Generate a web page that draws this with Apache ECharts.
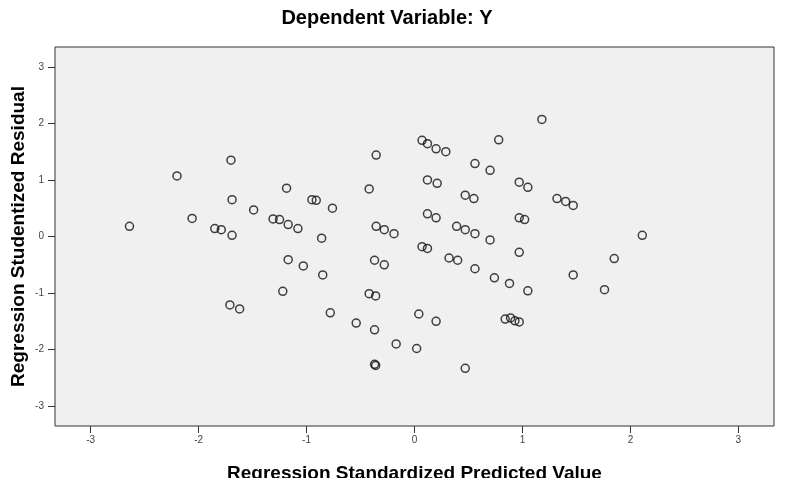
<!DOCTYPE html>
<html>
<head>
<meta charset="utf-8">
<script src="https://cdn.jsdelivr.net/npm/echarts@6/dist/echarts.min.js"></script>
<style>
html,body{margin:0;padding:0;background:#fff;}
#chart{width:788px;height:478px;}
</style>
</head>
<body>
<div id="chart"></div>
<script>
// Regression Standardized Predicted Value (x) values
var predicted = [
  -2.64, -2.20, -1.70, -2.06, -1.69, -1.185, -1.49, -1.85, -1.79, -1.69,
  -1.31, -1.25, -1.17, -1.08, -0.95, -0.91, -0.76, -0.86,
  -1.17, -1.03, -0.85, -1.22, -1.71, -1.62, -0.78,
  -0.355, -0.42, 0.07, 0.12, 0.20, 0.29, 1.18, 0.78, 0.56, 0.70,
  0.12, 0.21, 0.47, 0.55, 0.97, 1.05, 1.32, 1.40, 1.47,
  0.12, 0.20, -0.355, -0.28, -0.19, 0.39, 0.47, 0.56, 0.70, 0.97, 1.02,
  0.07, 0.12, 0.97, 1.47, 0.32, 0.40, -0.37, -0.28, 0.56, 0.74, 0.88, 1.05,
  -0.42, -0.36, -0.54, -0.37, 0.04, 0.20, 0.84, 0.89, 0.93, 0.97,
  -0.17, 0.02, -0.37, -0.36, 0.47, 2.11, 1.85, 1.76
];
// Regression Studentized Residual (y) values
var residual = [
  0.18, 1.07, 1.35, 0.32, 0.65, 0.855, 0.47, 0.14, 0.12, 0.02,
  0.31, 0.30, 0.21, 0.14, 0.65, 0.64, 0.50, -0.03,
  -0.41, -0.52, -0.68, -0.97, -1.21, -1.28, -1.35,
  1.44, 0.84, 1.70, 1.64, 1.55, 1.50, 2.07, 1.71, 1.29, 1.17,
  1.00, 0.94, 0.73, 0.67, 0.96, 0.87, 0.67, 0.62, 0.55,
  0.40, 0.33, 0.18, 0.12, 0.05, 0.18, 0.12, 0.05, -0.06, 0.33, 0.30,
  -0.18, -0.21, -0.28, -0.68, -0.38, -0.42, -0.42, -0.50, -0.57, -0.73, -0.83, -0.96,
  -1.01, -1.05, -1.53, -1.65, -1.37, -1.50, -1.46, -1.44, -1.49, -1.51,
  -1.90, -1.98, -2.26, -2.28, -2.33, 0.02, -0.39, -0.94
];
var xTicks = [-3, -2, -1, 0, 1, 2, 3];
var yTicks = [-3, -2, -1, 0, 1, 2, 3];

var points = predicted.map(function (v, i) { return [v, residual[i]]; });

var chart = echarts.init(document.getElementById('chart'), null, {renderer: 'canvas'});
var font = '"Liberation Sans", Arial, sans-serif';
chart.setOption({
  animation: false,
  backgroundColor: '#ffffff',
  title: {
    text: 'Dependent Variable: Y',
    left: 382, top: 3, textAlign: 'center',
    textStyle: {fontFamily: font, fontSize: 20, fontWeight: 'bold', color: '#000'}
  },
  grid: {
    left: 55, right: 14, top: 47, bottom: 52,
    outerBoundsMode: 'none', containLabel: false,
    show: true, backgroundColor: '#f0f0f0', borderColor: '#333', borderWidth: 1
  },
  xAxis: {
    type: 'value', min: -3.33, max: 3.33, position: 'bottom',
    name: 'Regression Standardized Predicted Value',
    nameLocation: 'middle', nameGap: 38, nameMoveOverlap: false,
    nameTextStyle: {fontFamily: font, fontSize: 19, fontWeight: 'bold', color: '#000'},
    axisLine: {show: false, onZero: false},
    splitLine: {show: false},
    axisTick: {show: true, length: 7, customValues: xTicks, lineStyle: {color: '#333', width: 1}},
    axisLabel: {customValues: xTicks, margin: 9, fontFamily: font, fontSize: 10, color: '#444'}
  },
  yAxis: {
    type: 'value', min: -3.35, max: 3.35, position: 'left',
    name: 'Regression Studentized Residual',
    nameLocation: 'middle', nameGap: 27, nameRotate: 90, nameMoveOverlap: false,
    nameTextStyle: {fontFamily: font, fontSize: 19, fontWeight: 'bold', color: '#000'},
    axisLine: {show: false, onZero: false},
    splitLine: {show: false},
    axisTick: {show: true, length: 7, customValues: yTicks, lineStyle: {color: '#333', width: 1}},
    axisLabel: {customValues: yTicks, margin: 11, fontFamily: font, fontSize: 10, color: '#444'}
  },
  series: [{
    type: 'scatter',
    data: points,
    symbol: 'circle',
    symbolSize: 8,
    itemStyle: {color: 'rgba(0,0,0,0)', borderColor: '#111', borderWidth: 1.5}
  }]
});
</script>
</body>
</html>
